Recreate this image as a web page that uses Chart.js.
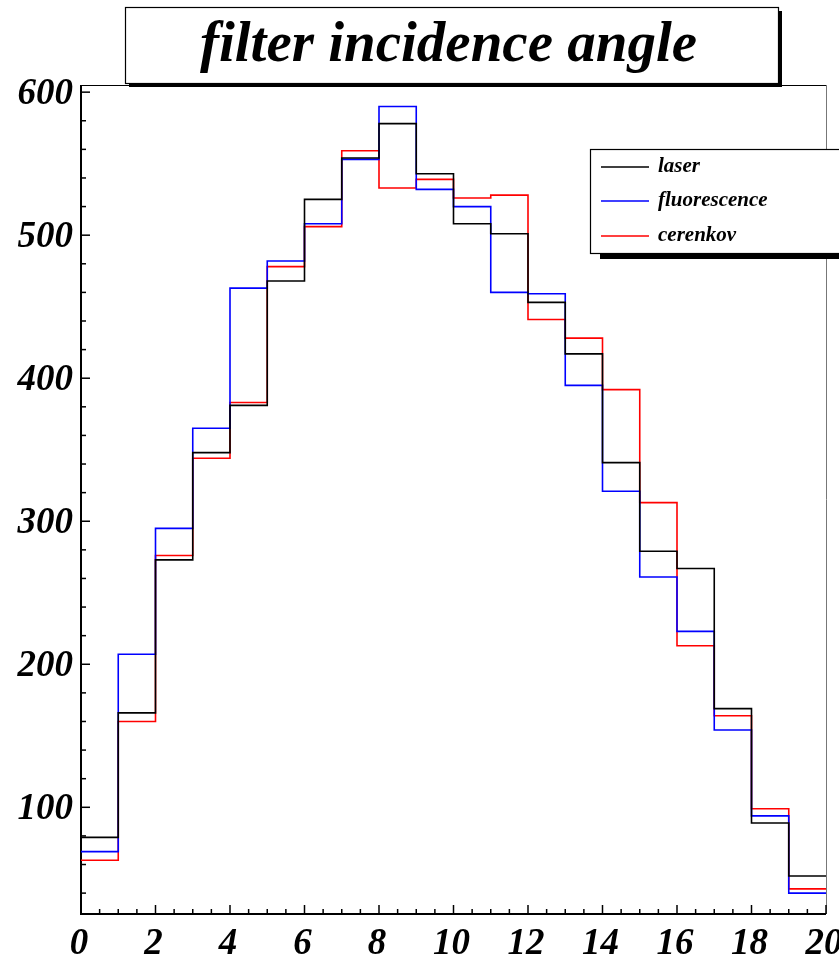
<!DOCTYPE html>
<html>
<head>
<meta charset="utf-8">
<title>filter incidence angle</title>
<script src="https://cdn.jsdelivr.net/npm/chart.js@4.4.0/dist/chart.umd.min.js"></script>
<style>
  html, body { margin: 0; padding: 0; background: #fff; }
  canvas { display: block; }
</style>
</head>
<body>
<canvas id="histo" width="839" height="957"></canvas>
<script>
// bin edges of the histogram (20 bins from 0 to 20)
const binEdges = [0, 1, 2, 3, 4, 5, 6, 7, 8, 9, 10, 11, 12, 13, 14, 15, 16, 17, 18, 19, 20];
const xTickLabels = [0, 2, 4, 6, 8, 10, 12, 14, 16, 18, 20];
const yTickLabels = [100, 200, 300, 400, 500, 600];

// bin contents
const laser = [79, 166, 273, 348, 381, 468, 525, 554, 578, 543, 508, 501, 453, 417, 341, 279, 267, 169, 89, 52];
const fluorescence = [69, 207, 295, 365, 463, 482, 508, 553, 590, 532, 520, 460, 459, 395, 321, 261, 223, 154, 94, 40];
const cerenkov = [63, 160, 276, 344, 383, 478, 506, 559, 533, 539, 526, 528, 441, 428, 392, 313, 213, 164, 99, 43];

const titleText = "filter incidence angle";
const serif = "'Liberation Serif', 'DejaVu Serif', serif";

// turn bin contents into step points: one point per bin low edge plus the last high edge
function histPoints(values) {
  const pts = values.map((v, i) => ({ x: binEdges[i], y: v }));
  pts.push({ x: binEdges[binEdges.length - 1], y: values[values.length - 1] });
  return pts;
}

function histDataset(label, values, color) {
  return {
    label,
    data: histPoints(values),
    borderColor: color,
    backgroundColor: color,
    borderWidth: 1.6,
    stepped: "before",
    pointRadius: 0,
    fill: false,
  };
}

// ROOT-like frame, inward ticks, title box and legend box
const rootStyle = {
  id: "rootStyle",
  beforeDatasetsDraw(chart) {
    const { ctx, chartArea: a, scales } = chart;
    const xs = scales.x, ys = scales.y;
    ctx.save();
    // top and right frame lines
    ctx.lineWidth = 1;
    ctx.strokeStyle = "#000";
    ctx.beginPath();
    ctx.moveTo(a.left, a.top + 0.5);
    ctx.lineTo(a.right, a.top + 0.5);
    ctx.stroke();
    ctx.strokeStyle = "#777";
    ctx.beginPath();
    ctx.moveTo(a.right + 0.5, a.top);
    ctx.lineTo(a.right + 0.5, a.bottom);
    ctx.stroke();

    // y ticks, inward
    ctx.strokeStyle = "#000";
    ctx.lineWidth = 1.5;
    for (let v = 20; v <= ys.max; v += 20) {
      if (v < ys.min) continue;
      const py = ys.getPixelForValue(v);
      const len = v % 100 === 0 ? 9 : 5;
      ctx.beginPath();
      ctx.moveTo(a.left, py);
      ctx.lineTo(a.left + len, py);
      ctx.stroke();
    }
    // x ticks, inward
    for (let v = xs.min; v <= xs.max; v += 0.5) {
      const px = xs.getPixelForValue(v);
      const len = v % 2 === 0 ? 9 : 5;
      ctx.beginPath();
      ctx.moveTo(px, a.bottom);
      ctx.lineTo(px, a.bottom - len);
      ctx.stroke();
    }
    // left and bottom axis lines
    ctx.lineWidth = 2;
    ctx.beginPath();
    ctx.moveTo(a.left, a.top);
    ctx.lineTo(a.left, a.bottom);
    ctx.lineTo(a.right, a.bottom);
    ctx.stroke();
    ctx.restore();
  },
  afterDraw(chart) {
    const { ctx } = chart;
    ctx.save();

    // title pave with shadow
    const tb = { l: 125, t: 7, r: 778, b: 83 };
    ctx.fillStyle = "#000";
    ctx.fillRect(tb.l + 4, tb.t + 4, tb.r - tb.l, tb.b - tb.t);
    ctx.fillStyle = "#fff";
    ctx.fillRect(tb.l, tb.t, tb.r - tb.l, tb.b - tb.t);
    ctx.strokeStyle = "#000";
    ctx.lineWidth = 1.2;
    ctx.strokeRect(tb.l + 0.5, tb.t + 0.5, tb.r - tb.l, tb.b - tb.t);
    ctx.fillStyle = "#000";
    ctx.font = "italic bold 57px " + serif;
    ctx.textAlign = "center";
    ctx.textBaseline = "alphabetic";
    ctx.fillText(titleText, (tb.l + tb.r) / 2 - 3, 61);

    // legend pave with shadow
    const lb = { l: 590, t: 149, r: 860, b: 253 };
    ctx.fillStyle = "#000";
    ctx.fillRect(lb.l + 10, lb.t + 10, lb.r - lb.l, lb.b - lb.t - 4);
    ctx.fillStyle = "#fff";
    ctx.fillRect(lb.l, lb.t, lb.r - lb.l, lb.b - lb.t);
    ctx.strokeStyle = "#000";
    ctx.lineWidth = 1.2;
    ctx.strokeRect(lb.l + 0.5, lb.t + 0.5, lb.r - lb.l, lb.b - lb.t);

    const rowY = [167, 201, 236];
    ctx.font = "italic bold 21px " + serif;
    ctx.textAlign = "left";
    ctx.textBaseline = "middle";
    chart.data.datasets.forEach((ds, i) => {
      ctx.strokeStyle = ds.borderColor;
      ctx.lineWidth = 1.5;
      ctx.beginPath();
      ctx.moveTo(601, rowY[i]);
      ctx.lineTo(649, rowY[i]);
      ctx.stroke();
      ctx.fillStyle = "#000";
      ctx.fillText(ds.label, 658, rowY[i]);
    });
    ctx.restore();
  },
};

const tickFont = { family: serif, size: 37, weight: "bold", style: "italic" };

const chart = new Chart(document.getElementById("histo"), {
  type: "line",
  data: {
    datasets: [
      histDataset("laser", laser, "#000000"),
      histDataset("fluorescence", fluorescence, "#0000ff"),
      histDataset("cerenkov", cerenkov, "#ff0000"),
    ],
  },
  options: {
    responsive: false,
    animation: false,
    devicePixelRatio: 1,
    layout: { padding: { top: 85, right: 13, left: 0, bottom: 0 } },
    plugins: {
      legend: { display: false },
      title: { display: false },
      tooltip: { enabled: false },
    },
    scales: {
      x: {
        type: "linear",
        min: binEdges[0],
        max: binEdges[binEdges.length - 1],
        grid: { display: false },
        border: { display: false },
        afterBuildTicks: (scale) => {
          scale.ticks = xTickLabels.map((v) => ({ value: v }));
        },
        afterFit: (scale) => {
          scale.height = 43;
          scale.paddingLeft = 0;
          scale.paddingRight = 0;
        },
        ticks: {
          font: tickFont,
          color: "#000",
          padding: 0,
          labelOffset: -2,
          maxRotation: 0,
          autoSkip: false,
        },
      },
      y: {
        min: 25.4,
        max: 605,
        grid: { display: false },
        border: { display: false },
        afterBuildTicks: (scale) => {
          scale.ticks = yTickLabels.map((v) => ({ value: v }));
        },
        afterFit: (scale) => {
          scale.width = 81;
          scale.paddingTop = 0;
          scale.paddingBottom = 0;
        },
        ticks: {
          font: tickFont,
          color: "#000",
          padding: 0,
          labelOffset: 2,
        },
      },
    },
  },
  plugins: [rootStyle],
});
</script>
</body>
</html>
